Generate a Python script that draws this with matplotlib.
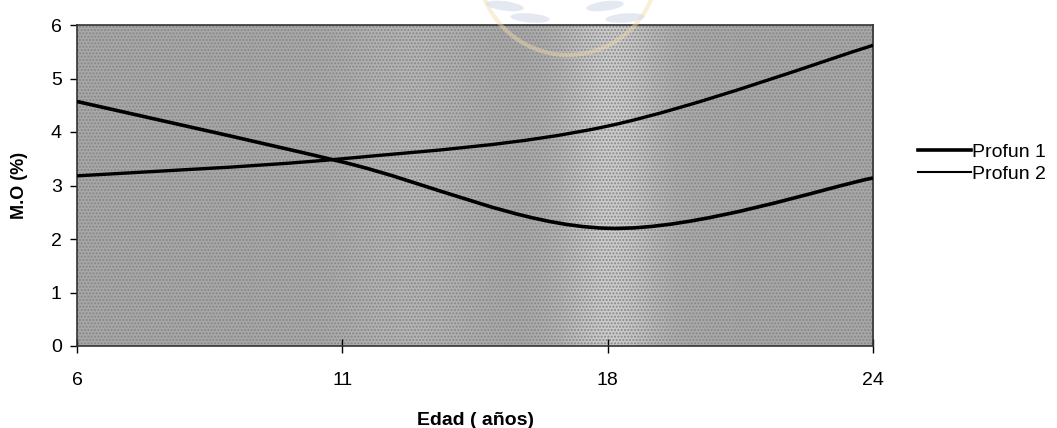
import matplotlib.pyplot as plt
import numpy as np
from matplotlib.path import Path
from matplotlib.patches import PathPatch, Ellipse
from matplotlib.lines import Line2D

plt.rcParams['font.family'] = ['Liberation Sans', 'DejaVu Sans']

edades = ['6', '11', '18', '24']
profun_1 = [4.57, 3.44, 2.20, 3.14]
profun_2 = [3.18, 3.50, 4.11, 5.62]
series_names = ['Profun 1', 'Profun 2']


def smooth_path(xs, ys, tension=1 / 6):
    """Curva suavizada tipo Excel (Bezier por tramos)."""
    pts = np.column_stack([xs, ys]).astype(float)
    n = len(pts)
    verts = [pts[0]]
    codes = [Path.MOVETO]
    for i in range(n - 1):
        p0 = pts[i - 1] if i > 0 else pts[i]
        p1 = pts[i]
        p2 = pts[i + 1]
        p3 = pts[i + 2] if i + 2 < n else pts[i + 1]
        c1 = p1 + (p2 - p0) * tension
        c2 = p2 - (p3 - p1) * tension
        verts += [c1, c2, p2]
        codes += [Path.CURVE4] * 3
    return Path(verts, codes)


W, H = 1057, 428
fig = plt.figure(figsize=(W / 100, H / 100), dpi=100)
ax = fig.add_axes([77 / W, 1 - 346 / H, (873 - 77) / W, (346 - 25) / H])

x = np.arange(len(edades))
ax.set_xlim(0, len(edades) - 1)
ax.set_ylim(0, 6)

# fondo gris punteado, más claro hacia el centro-derecha
cols = np.linspace(0, 1, 400)
shade = 0.66 + 0.14 * np.exp(-((cols - 0.67) / 0.06) ** 2) + 0.05 * np.exp(-((cols - 0.42) / 0.08) ** 2)
ax.imshow(shade[None, :], cmap='gray', vmin=0, vmax=1, aspect='auto',
          extent=(0, len(edades) - 1, 0, 6), zorder=0)
ax.add_patch(plt.Rectangle((0, 0), 3, 6, facecolor='none', edgecolor='#868686',
                           hatch='.....', linewidth=0, zorder=1))

for vals, lw in zip([profun_1, profun_2], [2.6, 2.4]):
    ax.add_patch(PathPatch(smooth_path(x, vals), facecolor='none', edgecolor='black',
                           linewidth=lw, capstyle='butt', zorder=3))

ax.set_xticks(x)
ax.set_xticklabels(edades, fontsize=14)
ax.set_yticks(range(7))
ax.tick_params(axis='y', direction='out', length=5, width=1, labelsize=14, pad=6)
ax.tick_params(axis='x', direction='inout', length=10, width=1, pad=14)
for s in ax.spines.values():
    s.set_color('#333333')
    s.set_linewidth(1.2)

ax.set_ylabel('M.O (%)', fontsize=13, fontweight='bold', labelpad=16)
ax.set_xlabel('Edad ( años)', fontsize=14, fontweight='bold', labelpad=16)

handles = [Line2D([], [], color='black', linewidth=2.6),
           Line2D([], [], color='black', linewidth=1.5)]
fig.legend(handles, series_names, loc='center left', bbox_to_anchor=(918 / W, 1 - 163 / H),
           frameon=False, fontsize=14, handlelength=2.7, handletextpad=0.1,
           labelspacing=0.2, borderpad=0, borderaxespad=0)

# sello de agua tenue en la parte superior
px = fig.transFigure.inverted()
cx, cy = px.transform((568, H + 35))
rx, _ = px.transform((90, 0))
ry = 90 / H
fig.patches.append(Ellipse((cx, cy), 2 * rx, 2 * ry, transform=fig.transFigure,
                           facecolor='none', edgecolor='#f2dcaa', linewidth=3, alpha=0.45, zorder=5))
for lx, ly, ang in [(505, 6, -25), (530, 18, -15), (605, 6, 25), (625, 18, 15)]:
    ex, ey = px.transform((lx, H - ly))
    fig.patches.append(Ellipse((ex, ey), 40 / W, 9 / H, angle=ang, transform=fig.transFigure,
                               facecolor='#d3dbe8', edgecolor='none', alpha=0.6, zorder=5))

fig.savefig('out.png', dpi=100)
